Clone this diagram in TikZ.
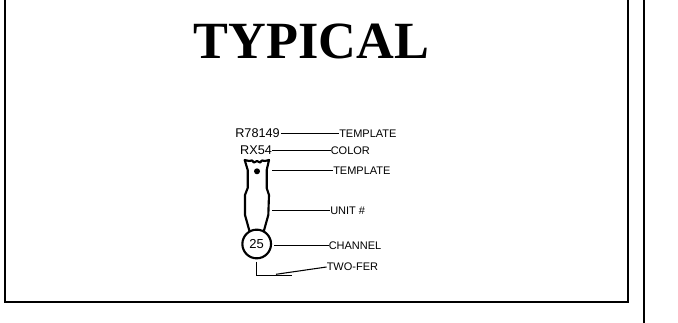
\documentclass[tikz,border=0pt]{standalone}
\usepackage{fontspec}
\setmainfont{Liberation Sans}
\newfontfamily\titlefont{Liberation Serif}
\begin{document}
\begin{tikzpicture}[
      x=0.75pt, y=-0.75pt,
      title/.style={font=\titlefont\bfseries\fontsize{39.2}{44}\selectfont, inner sep=0pt},
      partno/.style={font=\fontsize{9.5}{11}\selectfont, inner sep=0pt},
      callout/.style={font=\fontsize{8.25}{10}\selectfont, inner sep=0pt, anchor=west},
      leader/.style={line width=0.8pt, draw=black},
      frameline/.style={line width=1.7pt, draw=black},
      plug/.style={line width=1.6pt, draw=black, line join=round},
      unitno/.style={circle, draw=black, line width=1.6pt, fill=white, minimum size=21.5pt, inner sep=0pt, font=\fontsize{9.75}{11}\selectfont}
    ]
      \useasboundingbox (0,0) rectangle (678,323);
      \draw[frameline] (4.8,0) -- (4.8,302) -- (628,302) -- (628,0);
      \draw[frameline] (644,0) -- (644,323);
      \node[title] (heading) at (311.5,41.5) {TYPICAL};
      % part numbers on top
      \node[partno] (rnum) at (257.5,133.5) {R78149};
      \node[partno] (rxnum) at (256,150.5) {RX54};
      \node[callout] (ltemplate) at (339,133.5) {TEMPLATE};
      \node[callout] (lcolor) at (330.5,150.5) {COLOR};
      \node[callout] (lplug) at (333,170.5) {TEMPLATE};
      \node[callout] (lunit) at (330,210.5) {UNIT \#};
      \node[callout] (lchannel) at (328.5,245.5) {CHANNEL};
      \node[callout] (ltwofer) at (326.5,267) {TWO-FER};
      % plug body
      \draw[plug] (244.7,160) -- (249,161) -- (252,160.5) -- (254,162.5) -- (257,161) -- (260,162.5) -- (262,160.5) -- (265,161) -- (269,160)
        -- (266.7,170) -- (266.7,188) -- (269,195) -- (268.3,215) -- (263.3,233) -- (250,233) -- (245,215) -- (245,195) -- (247.7,188) -- (247.7,170) -- cycle;
      \fill (257,171.3) circle (3);
      \node[unitno] (channel) at (256.7,244) {25};
      \coordinate (plugtop) at (272.3,170.5);
      \coordinate (plugmid) at (272.3,210.5);
      \coordinate (twotop) at (256.5,261.7);
      \coordinate (twocorner) at (256.5,275.5);
      \coordinate (twoend) at (291.7,275.5);
      \coordinate (twotip) at (276,274.3);
      \draw[leader] (rnum.east) ++(1,0) -- (ltemplate.west);
      \draw[leader] (rxnum.east) -- (lcolor.west);
      \draw[leader] (plugtop) -- (lplug.west);
      \draw[leader] (plugmid) -- (lunit.west);
      \draw[leader] (channel.east |- lchannel.west) ++(2,0) -- (lchannel.west);
      \draw[leader] (twotip) -- (ltwofer.west);
      \draw[leader] (twotop) -- (twocorner) -- (twoend);
    \end{tikzpicture}
\end{document}
